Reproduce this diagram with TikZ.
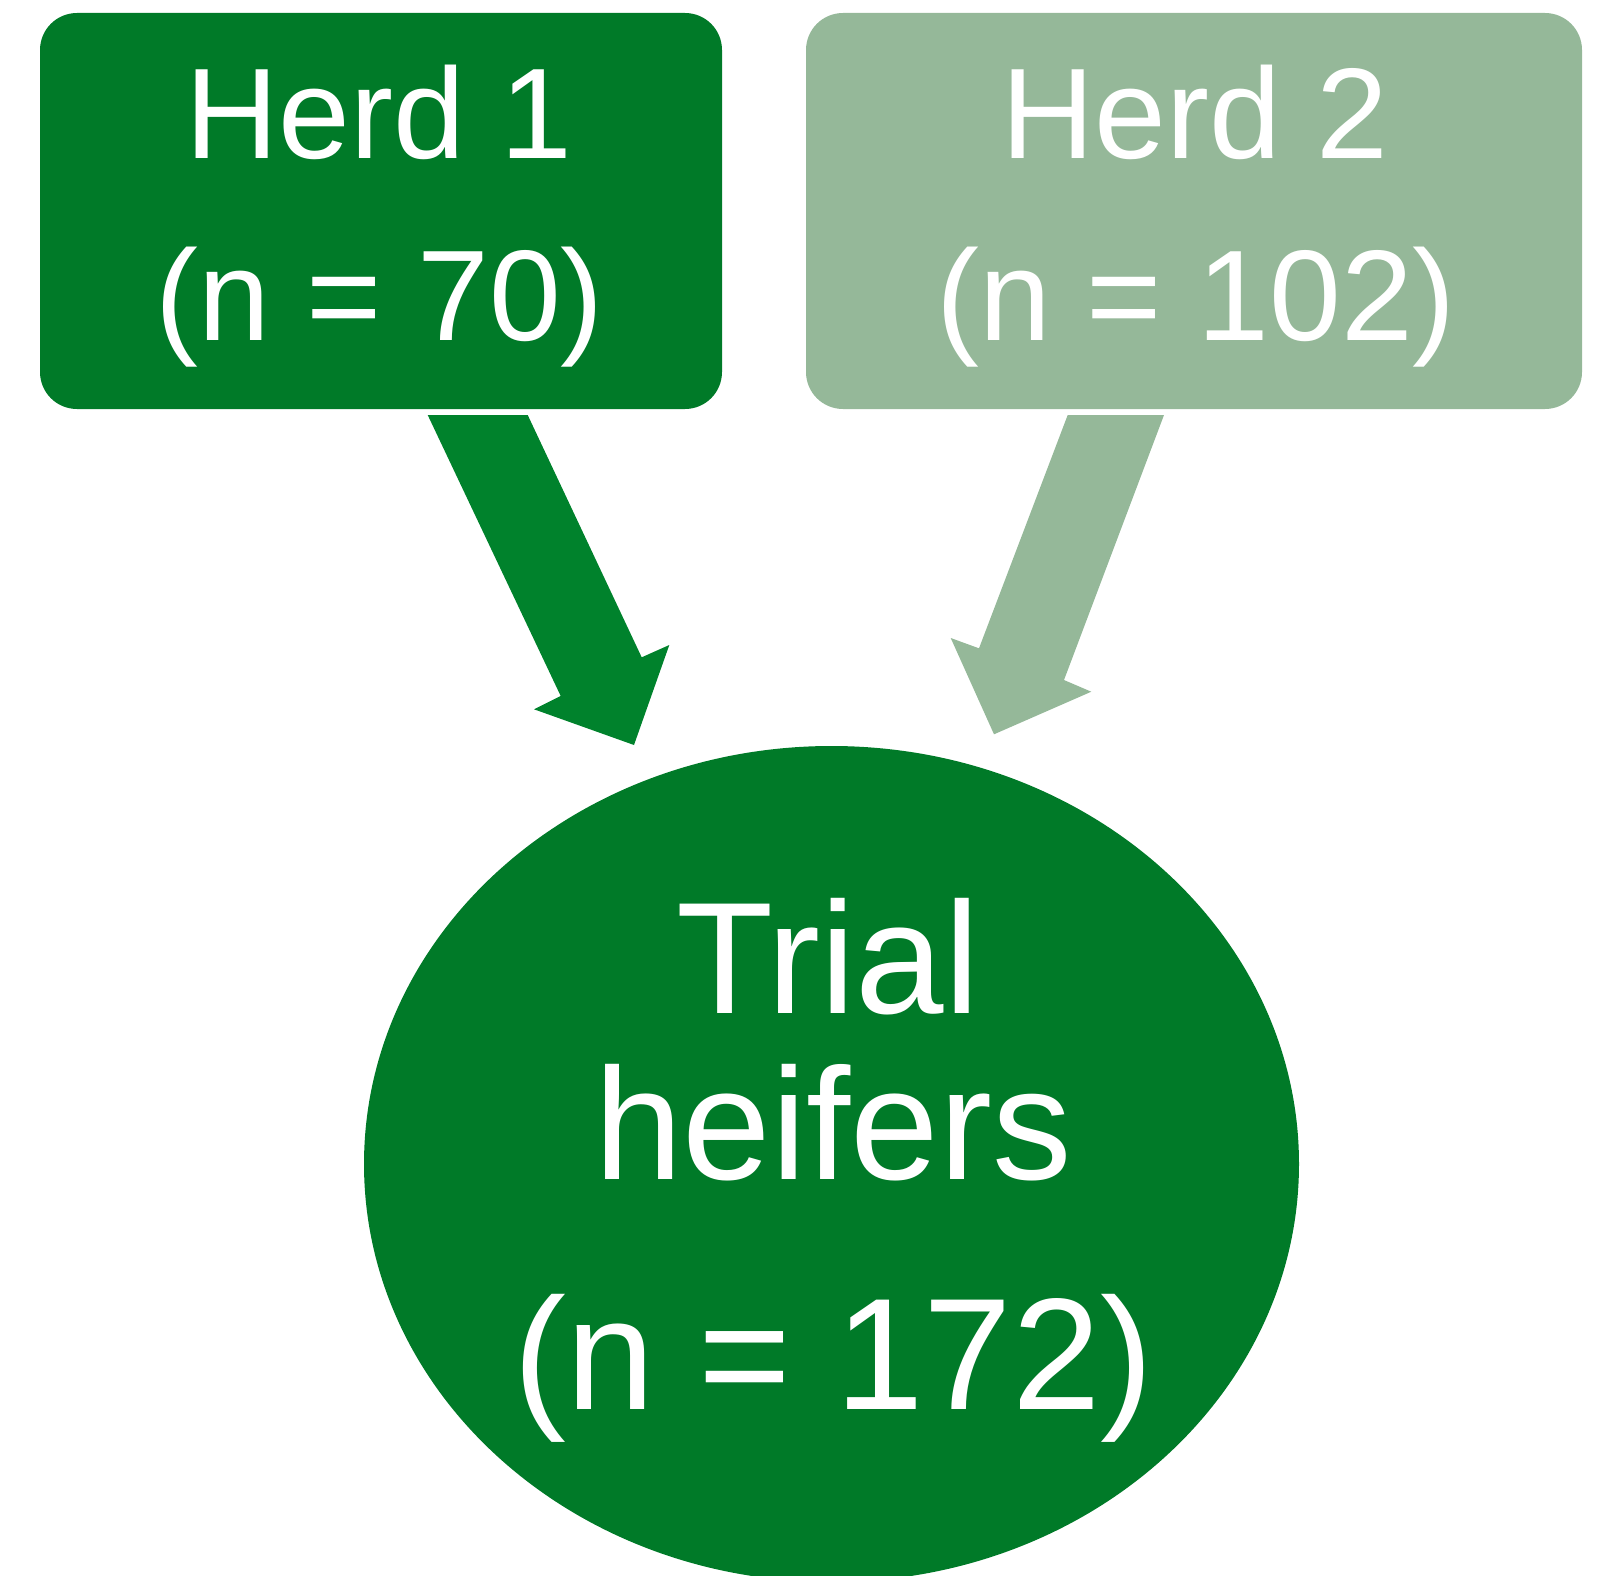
\documentclass[tikz,border=0pt]{standalone}
\usepackage{fontspec}
\setmainfont{Liberation Sans}
\usetikzlibrary{shapes.geometric}
\definecolor{dkgreen}{HTML}{007A28}
\definecolor{argreen}{HTML}{00822C}
\definecolor{ltgreen}{HTML}{95B899}
\tikzset{
  herdbox/.style={rectangle, rounded corners=37pt, draw=none, inner sep=0pt},
  boxtxt/.style={text=white, inner sep=0pt, anchor=base, font=\fontsize{129}{150}\selectfont},
  elltxt/.style={text=white, inner sep=0pt, anchor=base, font=\fontsize{159}{180}\selectfont},
  trialell/.style={ellipse, fill=dkgreen, draw=none, inner sep=0pt, minimum width=935pt, minimum height=836pt}
}
\begin{document}
\begin{tikzpicture}[x=1pt,y=-1pt]
\useasboundingbox (0,0) rectangle (1604,1576);
\clip (0,0) rectangle (1604,1576);
% boxes
\node[herdbox, fill=dkgreen, minimum width=682pt, minimum height=396pt] (h1) at (381,211) {};
\node[herdbox, fill=ltgreen, minimum width=776pt, minimum height=396pt] (h2) at (1194,211) {};
\node[boxtxt] (h1a) at (379,158.6) {Herd 1};
\node[boxtxt] (h1b) at (380,340.6) {(n = 70)};
\node[boxtxt] (h2a) at (1195,158.6) {Herd 2};
\node[boxtxt] (h2b) at (1196,340.6) {(n = 102)};
% ellipse
\node[trialell] (t) at (831.5,1164) {};
\node[elltxt] (ta) at (828,1013.8) {Trial};
\node[elltxt] (tb) at (833,1179.5) {heifers};
\node[elltxt] (tc) at (833.5,1409.7) {(n = 172)};
% block arrows
\coordinate (a1s1) at (427.7,415);
\coordinate (a1s2) at (527.7,415);
\coordinate (a1t) at (634,745);
\coordinate (a2s1) at (1067.7,415);
\coordinate (a2s2) at (1164,415);
\coordinate (a2t) at (994,734.3);
\fill[argreen] (a1s1) -- (a1s2) -- (641.7,657.3) -- (669.3,645) -- (a1t) -- (534,709.3) -- (560.7,696) -- cycle;
\fill[ltgreen] (a2s1) -- (a2s2) -- (1064,680) -- (1091.3,691.7) -- (a2t) -- (950.7,638) -- (979,648.3) -- cycle;
\end{tikzpicture}
\end{document}
